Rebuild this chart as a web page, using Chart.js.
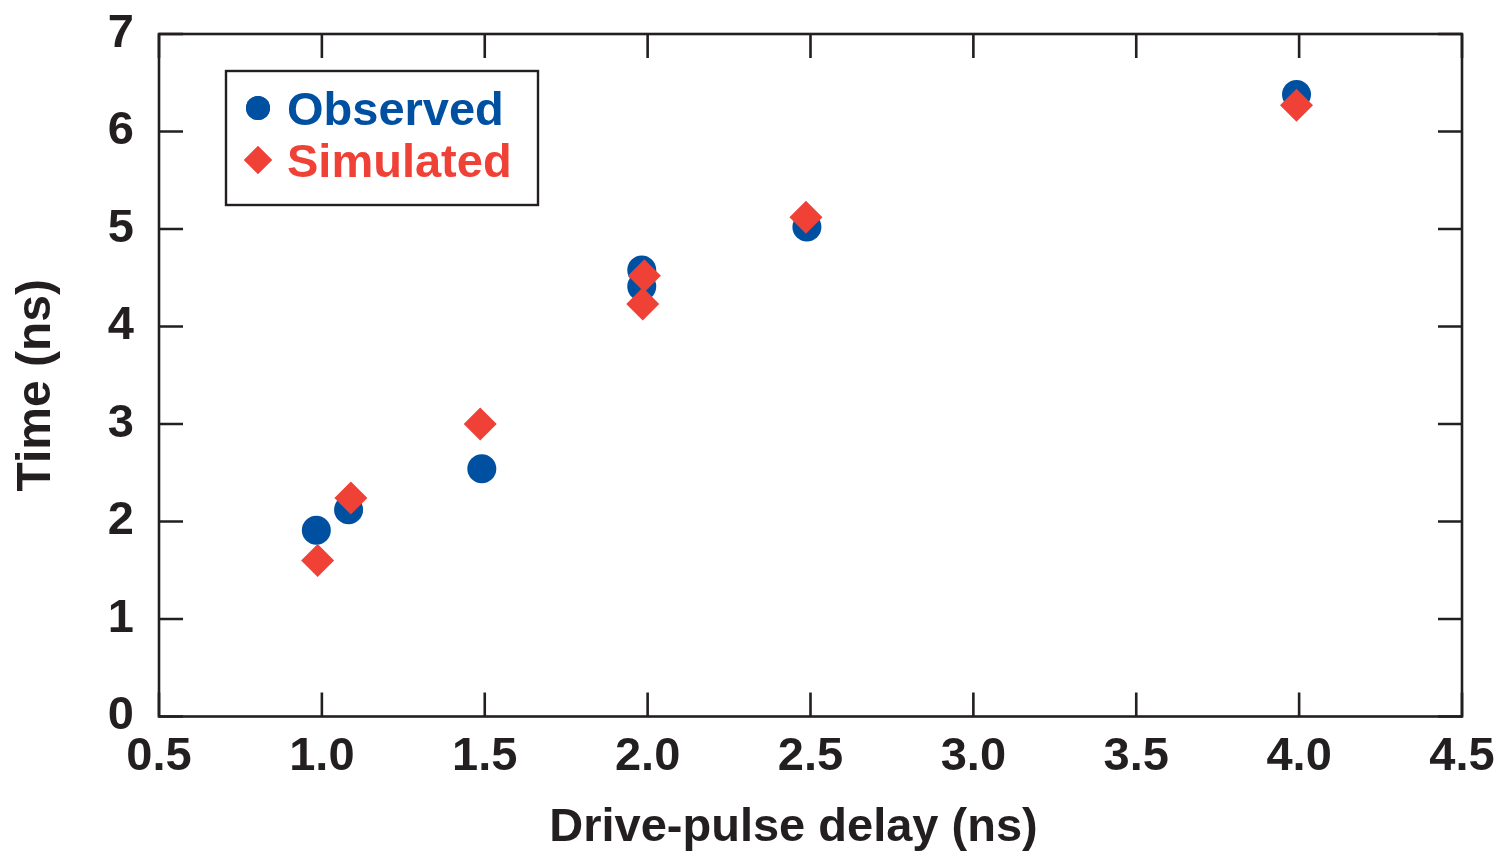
<!DOCTYPE html>
<html lang="en">
<head>
    <meta charset="UTF-8">
    <title>Time vs drive-pulse delay</title>
    <script src="https://cdn.jsdelivr.net/npm/chart.js"></script>
    <style>
        body {
            margin: 0;
            background: #fff;
        }
        .wrap {
            width: 1501px;
            height: 857px;
            position: relative;
        }
    </style>
</head>
<body>
    <div class="wrap">
        <canvas id="delayChart"></canvas>
    </div>

    <script>
        // measured points (ns)
        const observedDelay = [0.983, 1.082, 1.491, 1.982, 1.982, 2.489, 3.992];
        const observedTime  = [1.91, 2.12, 2.54, 4.58, 4.41, 5.02, 6.38];
        const simulatedDelay = [0.987, 1.089, 1.486, 1.990, 1.985, 2.486, 3.992];
        const simulatedTime  = [1.60, 2.24, 3.00, 4.52, 4.23, 5.12, 6.27];

        const xTickValues = [0.5, 1.0, 1.5, 2.0, 2.5, 3.0, 3.5, 4.0, 4.5];
        const yTickValues = [0, 1, 2, 3, 4, 5, 6, 7];

        const seriesNames = ['Observed', 'Simulated'];
        const xTitle = 'Drive-pulse delay (ns)';
        const yTitle = 'Time (ns)';
        const blue = '#0050a2';
        const red = '#ef4136';
        const ink = '#231f20';
        const family = '"Liberation Sans", Arial, Helvetica, sans-serif';

        function toPoints(xs, ys) {
            return xs.map((x, i) => ({ x: x, y: ys[i] }));
        }

        // closed frame with inward ticks on all four sides
        const framePlugin = {
            id: 'frame',
            afterDatasetsDraw(chart) {
                const { ctx, chartArea: a, scales } = chart;
                const len = 24;
                ctx.save();
                ctx.strokeStyle = ink;
                ctx.lineWidth = 2.6;
                ctx.strokeRect(a.left, a.top, a.right - a.left, a.bottom - a.top);
                ctx.beginPath();
                xTickValues.forEach(v => {
                    const px = scales.x.getPixelForValue(v);
                    ctx.moveTo(px, a.bottom); ctx.lineTo(px, a.bottom - len);
                    ctx.moveTo(px, a.top); ctx.lineTo(px, a.top + len);
                });
                yTickValues.forEach(v => {
                    const py = scales.y.getPixelForValue(v);
                    ctx.moveTo(a.left, py); ctx.lineTo(a.left + len, py);
                    ctx.moveTo(a.right, py); ctx.lineTo(a.right - len, py);
                });
                ctx.stroke();
                ctx.restore();
            }
        };

        // axis titles, set a little off the plot centre
        const titlesPlugin = {
            id: 'axisTitles',
            afterDraw(chart) {
                const { ctx, chartArea: a } = chart;
                ctx.save();
                ctx.fillStyle = ink;
                ctx.font = 'bold 47px ' + family;
                ctx.textAlign = 'center';
                ctx.textBaseline = 'alphabetic';
                ctx.fillText(xTitle, (a.left + a.right) / 2 - 17, a.bottom + 124);

                ctx.font = 'bold 48px ' + family;
                ctx.translate(50, (a.top + a.bottom) / 2 + 10);
                ctx.rotate(-Math.PI / 2);
                ctx.fillText(yTitle, 0, 0);
                ctx.restore();
            }
        };

        // boxed legend in the upper left of the plot
        const legendBoxPlugin = {
            id: 'legendBox',
            afterDraw(chart) {
                const { ctx, chartArea: a } = chart;
                const left = a.left + 67, top = a.top + 37;
                ctx.save();
                ctx.strokeStyle = ink;
                ctx.lineWidth = 2.4;
                ctx.strokeRect(left, top, 312, 134);

                const colors = [blue, red];
                const styles = ['circle', 'rectRot'];
                const radii = [12, 14];
                ctx.font = 'bold 47px ' + family;
                ctx.textBaseline = 'alphabetic';
                seriesNames.forEach((name, i) => {
                    const cy = top + 37 + i * 52;
                    ctx.fillStyle = colors[i];
                    Chart.helpers.drawPoint(ctx, {
                        pointStyle: styles[i],
                        radius: radii[i],
                        borderWidth: 0
                    }, left + 32, cy);
                    ctx.fill();
                    ctx.fillText(name, left + 61, cy + 17);
                });
                ctx.restore();
            }
        };

        const ctx = document.getElementById('delayChart').getContext('2d');
        const delayChart = new Chart(ctx, {
            type: 'scatter',
            data: {
                datasets: [
                    {
                        label: seriesNames[1],
                        data: toPoints(simulatedDelay, simulatedTime),
                        pointStyle: 'rectRot',
                        pointRadius: 16.5,
                        backgroundColor: red,
                        borderWidth: 0
                    },
                    {
                        label: seriesNames[0],
                        data: toPoints(observedDelay, observedTime),
                        pointStyle: 'circle',
                        pointRadius: 14.5,
                        backgroundColor: blue,
                        borderWidth: 0
                    }
                ]
            },
            options: {
                responsive: true,
                maintainAspectRatio: false,
                animation: false,
                layout: {
                    padding: { top: 34, right: 39, left: 0, bottom: 0 }
                },
                plugins: {
                    legend: { display: false },
                    tooltip: { enabled: false }
                },
                scales: {
                    x: {
                        type: 'linear',
                        min: 0.5,
                        max: 4.5,
                        afterBuildTicks: s => { s.ticks = xTickValues.map(v => ({ value: v })); },
                        afterFit: s => {
                            s.height = 140.5;
                            s.paddingLeft = 0;
                            s.paddingRight = 0;
                        },
                        grid: { display: false },
                        border: { display: false },
                        ticks: {
                            padding: 4,
                            maxRotation: 0,
                            color: ink,
                            font: { family: family, size: 47, weight: 'bold' },
                            callback: v => v.toFixed(1)
                        }
                    },
                    y: {
                        type: 'linear',
                        min: 0,
                        max: 7,
                        afterBuildTicks: s => { s.ticks = yTickValues.map(v => ({ value: v })); },
                        afterFit: s => {
                            s.width = 159;
                            s.paddingTop = 0;
                            s.paddingBottom = 0;
                        },
                        grid: { display: false },
                        border: { display: false },
                        ticks: {
                            padding: 17,
                            color: ink,
                            font: { family: family, size: 47, weight: 'bold' },
                            callback: v => String(v)
                        }
                    }
                }
            },
            plugins: [framePlugin, titlesPlugin, legendBoxPlugin]
        });
    </script>
</body>
</html>
